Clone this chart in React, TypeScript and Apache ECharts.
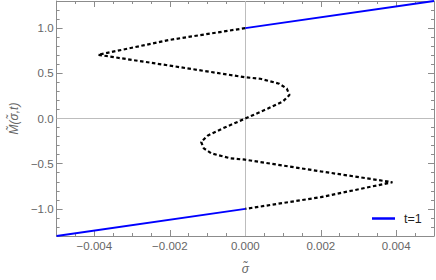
import React, { useEffect, useRef } from "react";
import * as echarts from "echarts";

// Data
const sigmaBlueLower = [-0.005, 0];
const mBlueLower = [-1.3, -1.0];
const sigmaBlueUpper = [0, 0.005];
const mBlueUpper = [1.0, 1.3];

const sigmaDotted = [
  0, -0.002, -0.0039, -0.002, 0, 0.0004, 0.0009, 0.0011, 0.00117, 0.001, 0.0006, 0,
  -0.0006, -0.001, -0.00117, -0.0011, -0.0009, -0.0004, 0, 0.002, 0.0039, 0.002, 0,
];
const mDotted = [
  1.0, 0.87, 0.705, 0.585, 0.456, 0.44, 0.385, 0.33, 0.26, 0.19, 0.11, 0,
  -0.11, -0.19, -0.26, -0.33, -0.385, -0.44, -0.456, -0.585, -0.705, -0.87, -1.0,
];

const xMajorTicks = [-0.004, -0.002, 0, 0.002, 0.004];
const yMajorTicks = [-1.0, -0.5, 0, 0.5, 1.0];

const X_MIN = -0.005;
const X_MAX = 0.005;
const Y_MIN = -1.3;
const Y_MAX = 1.3;

const FRAME = "#8c8c8c";
const LABEL = "#666666";
const FONT = "Liberation Sans, Arial, sans-serif";

const fmt = (v: number, d: number) => {
  const s = Math.abs(v) < 1e-12 ? (0).toFixed(d) : v.toFixed(d);
  return s.replace("-", "\u2212");
};

export default function App() {
  const ref = useRef<HTMLDivElement>(null);
  useEffect(() => {
    document.body.style.margin = "0";
    if (!ref.current) return;
    const chart = echarts.init(ref.current, null, { renderer: "svg" });

    const minorX = (pos: string) => ({
      type: "value",
      position: pos,
      min: X_MIN,
      max: X_MAX,
      interval: 0.0005,
      axisLine: { show: true, onZero: false, lineStyle: { color: FRAME, width: 1 } },
      axisTick: { show: true, inside: true, length: 3, lineStyle: { color: FRAME } },
      axisLabel: { show: false },
      splitLine: { show: false },
    });
    const majorX = (pos: string, labels: boolean) => ({
      type: "value",
      position: pos,
      min: X_MIN,
      max: X_MAX,
      axisLine: { show: false, onZero: false },
      axisTick: {
        show: true,
        inside: true,
        length: 6,
        customValues: xMajorTicks,
        lineStyle: { color: FRAME },
      },
      axisLabel: {
        show: labels,
        customValues: xMajorTicks,
        formatter: (v: number) => fmt(v, 3),
        color: LABEL,
        fontFamily: FONT,
        fontSize: 11.5,
        margin: 4,
      },
      splitLine: { show: false },
    });
    const minorY = (pos: string) => ({
      type: "value",
      position: pos,
      min: Y_MIN,
      max: Y_MAX,
      interval: 0.1,
      axisLine: { show: true, onZero: false, lineStyle: { color: FRAME, width: 1 } },
      axisTick: { show: true, inside: true, length: 3, lineStyle: { color: FRAME } },
      axisLabel: { show: false },
      splitLine: { show: false },
    });
    const majorY = (pos: string, labels: boolean) => ({
      type: "value",
      position: pos,
      min: Y_MIN,
      max: Y_MAX,
      axisLine: { show: false, onZero: false },
      axisTick: {
        show: true,
        inside: true,
        length: 6,
        customValues: yMajorTicks,
        lineStyle: { color: FRAME },
      },
      axisLabel: {
        show: labels,
        customValues: yMajorTicks,
        formatter: (v: number) => fmt(v, 1),
        color: LABEL,
        fontFamily: FONT,
        fontSize: 11.5,
        margin: 3,
      },
      splitLine: { show: false },
    });

    const xName = {
      ...majorX("bottom", true),
      name: "\u03c3\u0303",
      nameLocation: "middle",
      nameGap: 27,
      nameTextStyle: { color: LABEL, fontFamily: FONT, fontSize: 12, fontStyle: "italic" },
    };
    const yName = {
      ...majorY("left", true),
      name: "M\u0303(\u03c3\u0303,t)",
      nameLocation: "middle",
      nameRotate: 90,
      nameGap: 33,
      nameTextStyle: { color: LABEL, fontFamily: FONT, fontSize: 12, fontStyle: "italic" },
    };

    const blueLower = sigmaBlueLower.map((s, i) => [s, mBlueLower[i]]);
    const blueUpper = sigmaBlueUpper.map((s, i) => [s, mBlueUpper[i]]);
    const dotted = sigmaDotted.map((s, i) => [s, mDotted[i]]);

    chart.setOption({
      animation: false,
      grid: { left: 51, right: 2, top: 1, bottom: 43, containLabel: false },
      xAxis: [minorX("bottom"), xName, minorX("top"), majorX("top", false)],
      yAxis: [minorY("left"), yName, minorY("right"), majorY("right", false)],
      legend: {
        data: ["t=1"],
        left: 367,
        top: 207,
        icon: "rect",
        itemWidth: 23,
        itemHeight: 2.5,
        textStyle: {
          color: "#222",
          fontFamily: FONT,
          fontSize: 12.5,
          padding: [0, 0, 0, 4],
        },
      },
      series: [
        {
          name: "dotted",
          type: "line",
          data: dotted,
          showSymbol: false,
          symbol: "none",
          z: 2,
          lineStyle: { color: "#000", width: 2.2, type: [3.5, 2.5], cap: "butt" },
          markLine: {
            silent: true,
            symbol: "none",
            label: { show: false },
            lineStyle: { color: "#bdbdbd", width: 1, type: "solid" },
            data: [{ xAxis: 0 }, { yAxis: 0 }],
            z: 1,
          },
        },
        {
          name: "t=1",
          type: "line",
          data: blueLower,
          showSymbol: false,
          symbol: "none",
          z: 3,
          lineStyle: { color: "#0000ff", width: 2 },
          itemStyle: { color: "#0000ff" },
        },
        {
          name: "t=1",
          type: "line",
          data: blueUpper,
          showSymbol: false,
          symbol: "none",
          z: 3,
          lineStyle: { color: "#0000ff", width: 2 },
          itemStyle: { color: "#0000ff" },
        },
      ],
    });
    return () => chart.dispose();
  }, []);
  return <div ref={ref} style={{ width: 436, height: 280 }} />;
}
